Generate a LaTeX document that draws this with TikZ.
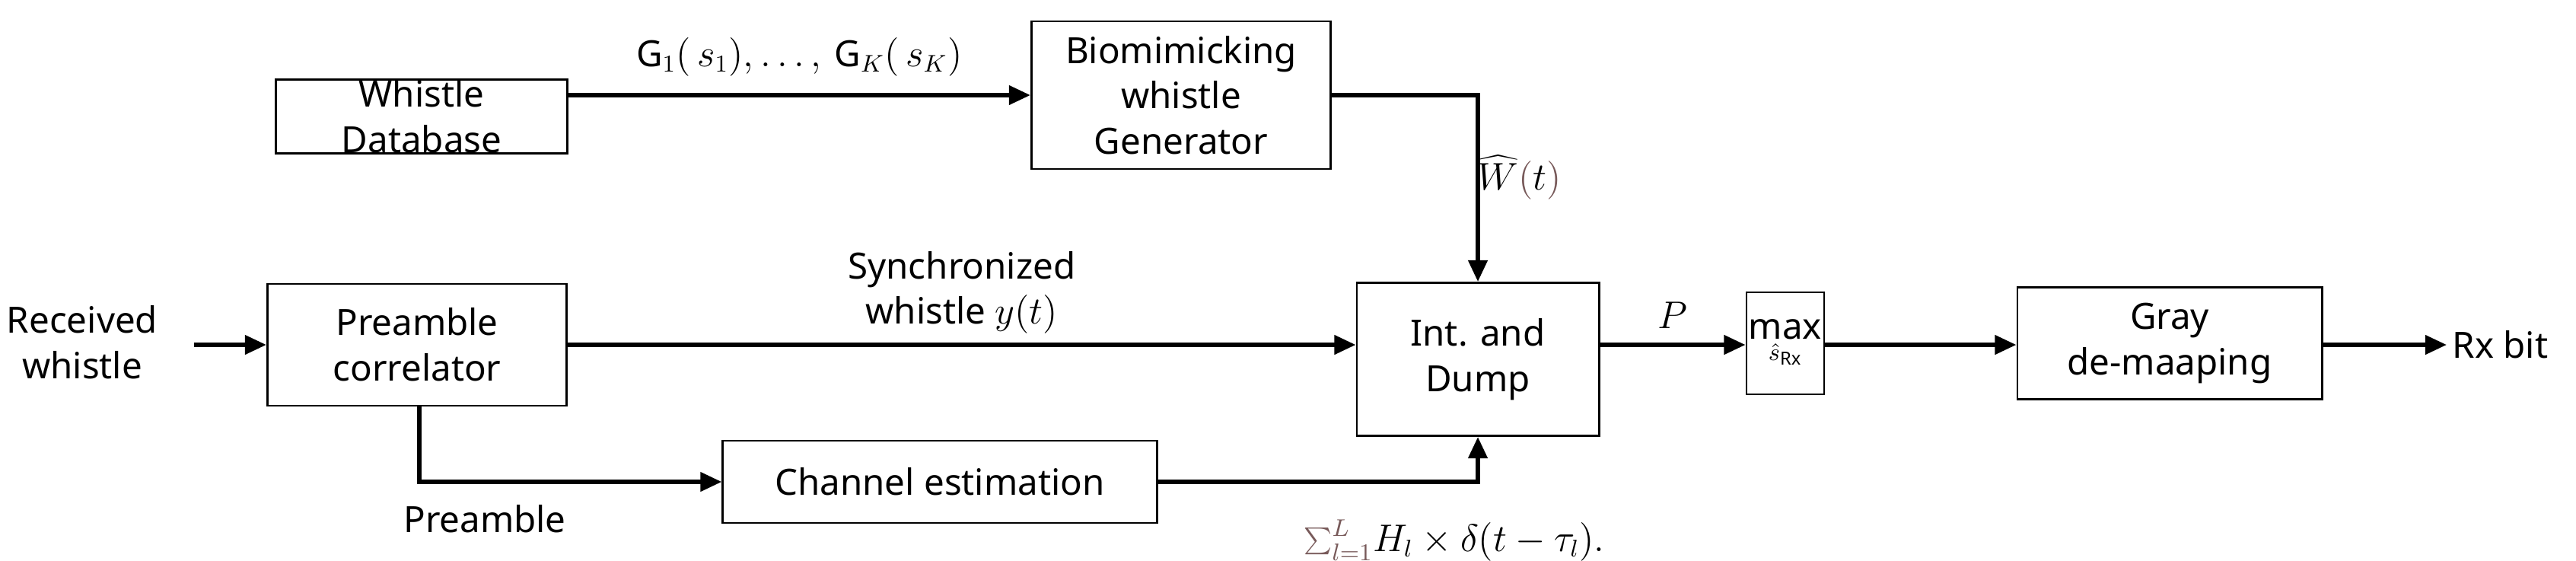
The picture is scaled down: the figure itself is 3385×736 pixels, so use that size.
\documentclass[tikz,border=0pt]{standalone}
\usepackage{fontspec}
\setmainfont{Noto Sans}
\usetikzlibrary{arrows.meta}
\definecolor{mb}{RGB}{120,90,90}
\begin{document}
\begin{tikzpicture}[x=0.01cm,y=-0.01cm,
  fs/.style={font=\fontsize{13.5}{17}\selectfont},
  box/.style={draw,thick,align=center,inner sep=0pt,fs},
  lab/.style={fs,align=center},
  ar/.style={line width=1.6pt,-{Triangle[length=8pt,width=7pt]}}]
\useasboundingbox (0,0) rectangle (3385,736);
\node[box,minimum width=3.82cm,minimum height=0.91cm] (wd) at (554,153) {Whistle\\Database};
\node[box,minimum width=3.93cm,minimum height=1.94cm] (bg) at (1552,125) {Biomimicking\\whistle\\Generator};
\node[box,minimum width=3.93cm,minimum height=1.6cm] (pc) at (548,453) {Preamble\\correlator};
\node[box,minimum width=3.18cm,minimum height=2.01cm] (id) at (1942,472) {Int. and\\Dump};
\node[box,minimum width=1.02cm,minimum height=1.34cm] (mx) at (2346,451) {};
\node[fs] at (mx.center) {$\max\limits_{\hat{s}_{\mathrm{Rx}}}$};
\node[box,minimum width=4.0cm,minimum height=1.47cm] (gr) at (2851,451) {Gray\\de-maaping};
\node[box,minimum width=5.7cm,minimum height=1.08cm] (ce) at (1235,633) {Channel estimation};
\node[lab] (rw) at (108,450) {Received\\whistle};
\node[lab,anchor=west,inner sep=2pt] (rx) at (3215,453) {Rx bit};
\coordinate (rws) at (255,453);
\draw[ar] (rws) -- (pc.west|-rws);
\draw[ar] (wd.east|-0,125) -- node[above=3pt,fs]{$\mathrm{G}_1(\,s_1),\dots,\,\mathrm{G}_K(\,s_K)$} (bg.west|-0,125);
\coordinate (c1) at (1942,125);
\draw[ar] (bg.east|-c1) -- (c1) -- (id.north);
\node[fs] at (1997,233) {$\widehat{W}\textcolor{mb}{(}t\textcolor{mb}{)}$};
\draw[ar] (pc.east|-0,453) -- node[above,lab,pos=0.5]{Synchronized\\whistle $y(t)$} (id.west|-0,453);
\coordinate (c2) at (551,633);
\draw[ar] (pc.south-|c2) -- (c2) -- (ce.west|-c2);
\node[lab] at (637,682) {Preamble};
\coordinate (c3) at (1942,633);
\draw[ar] (ce.east|-c3) -- (c3) -- (id.south);
\node[fs] at (1911,710) {$\textcolor{mb}{\sum_{l=1}^{L}}H_l\times\delta(t-\tau_l).$};
\draw[ar] (id.east|-0,453) -- node[above=2pt,fs]{$P$} (mx.west|-0,453);
\draw[ar] (mx.east|-0,453) -- (gr.west|-0,453);
\draw[ar] (gr.east|-0,453) -- (rx.west);
\end{tikzpicture}
\end{document}
